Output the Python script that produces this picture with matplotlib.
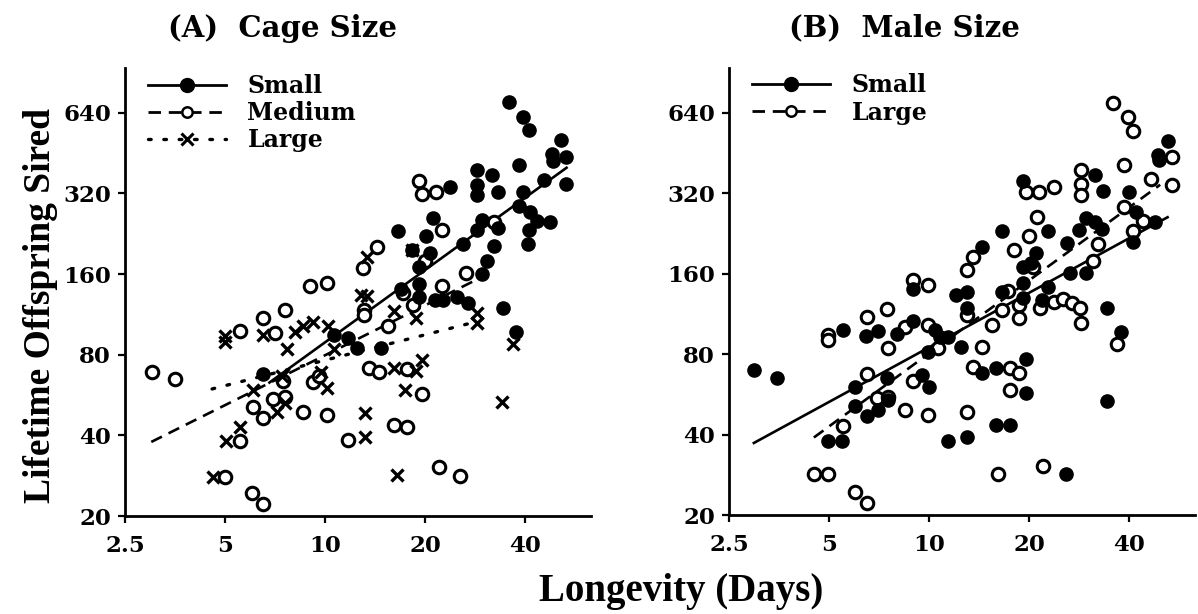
import matplotlib
matplotlib.use("Agg")
import matplotlib.pyplot as plt
from matplotlib.lines import Line2D
from matplotlib.ticker import FixedLocator, FixedFormatter, NullLocator

# ---- data: panel A, cage size ----
a_small_x = [35.6, 39.4, 41, 51.3, 48.2, 53.1, 48.5, 38.3, 28.7, 31.8,
             28.7, 23.7, 28.7, 33, 53.1, 45.6, 39.4, 38.3, 41.4, 43.5,
             47.5, 41.1, 40.6, 29.7, 28.7, 33, 32.1, 26.0, 30.7, 29.7,
             21.1, 16.6, 20.1, 18.2, 20.7, 19.1, 19.1, 19.1, 16.9, 24.9,
             26.8, 34.3, 21.4, 22.6, 37.6, 14.7, 6.5, 10.6, 11.7, 12.5]
a_small_y = [705, 615, 550, 505, 450, 438, 423, 409, 391, 375,
             344, 338, 316, 324, 347, 360, 324, 288, 273, 252,
             250, 233, 208, 255, 233, 237, 203, 208, 179, 160,
             259, 231, 222, 196, 192, 170, 147, 131, 141, 131,
             125, 120, 128, 128, 97, 85, 67.5, 95, 92, 85]

a_med_x = [3.02, 3.54, 5.55, 6.51, 7.07, 7.58, 9.0, 10.1, 13.1, 13.1,
           15.5, 7.47, 6.97, 7.58, 6.07, 6.51, 8.6, 10.15, 9.17, 9.57,
           13.5, 14.5, 16.1, 11.7, 5.55, 5.0, 6.03, 6.51, 22.5, 17.6,
           19.6, 17.6, 22.0, 25.4, 14.3, 13.0, 19.1, 19.6, 21.6, 22.4,
           26.6, 20.0, 32.1, 17.1, 18.4]
a_med_y = [69, 65, 98, 110, 96, 117, 145, 148, 117, 113,
           102, 64, 54.5, 55.7, 51, 46.6, 49, 47.8, 63.5, 66.4,
           71.6, 69, 43.9, 38.6, 38, 28, 24.3, 22.1, 144, 70.5,
           57, 43, 30.5, 28.2, 202, 168, 355, 319, 324, 233,
           162, 179, 251, 136, 123]

a_large_x = [5.0, 5.0, 6.51, 7.66, 8.12, 8.6, 9.17, 10.2, 12.8, 13.4,
             16.1, 10.6, 9.7, 10.15, 7.42, 6.07, 7.17, 7.58, 5.55, 5.04,
             4.6, 13.2, 13.2, 16.5, 18.7, 28.7, 28.7, 16.1, 18.7, 19.6,
             17.4, 34, 36.8, 13.4, 18.2]
a_large_y = [93.6, 89.5, 95, 84, 97, 102, 106, 102, 134, 132,
             116, 84, 69, 60.3, 66.4, 59, 49, 53, 43, 38,
             28, 48.6, 39.5, 28.4, 110, 114, 105, 71.6, 69.3, 76.7,
             59, 53.5, 88, 186, 196]

# fitted lines (end points)
fit_a_small_x, fit_a_small_y = [6.8, 53.2], [63, 399]
fit_a_med_x, fit_a_med_y = [3.0, 29.3], [37.8, 155]
fit_a_large_x, fit_a_large_y = [4.57, 28.3], [59.6, 106]

# ---- data: panel B, male size ----
b_small_x = [52.1, 48.8, 49.2, 19.1, 31.6, 33.4, 40, 42, 47.8, 41,
             29.7, 31.6, 33.2, 28.3, 22.7, 16.5, 14.4, 26.0, 29.7, 26.6,
             20.9, 20.3, 19.1, 19.1, 22.7, 16.6, 13.0, 21.9, 34.3, 19.1,
             12.0, 2.97, 3.49, 5.52, 6.46, 7.02, 8.0, 8.94, 8.94, 13.0,
             10.4, 10.8, 11.4, 12.5, 9.93, 15.9, 14.4, 7.47, 9.53, 10,
             5.99, 5.99, 6.51, 7.02, 7.52, 4.97, 5.46, 11.4, 13.0, 15.9,
             19.6, 19.6, 17.5, 25.7, 34.3, 37.8]
b_small_y = [503, 446, 427, 355, 375, 326, 322, 273, 250, 210,
             258, 249, 234, 233, 231, 231, 202, 208, 161, 161,
             191, 176, 170, 148, 143, 136, 136, 127, 119, 130,
             133, 69.5, 65, 98.6, 93.6, 97.8, 95, 106, 140, 119,
             98.6, 92.8, 92.8, 85, 81.5, 71, 68, 65, 66.9, 60.3,
             60.3, 51.1, 46.9, 49.6, 54, 38, 38, 38, 39, 43.5,
             76.7, 57, 43.5, 28.4, 53.6, 97]

b_large_x = [35.6, 39.7, 41.1, 53.9, 38.6, 28.7, 28.7, 28.7, 23.7, 21.4,
             19.6, 46.5, 53.6, 38.6, 43.8, 41.1, 21.1, 20, 18, 13.5,
             13.0, 32.1, 31.0, 17.2, 23.7, 25.3, 26.9, 28.5, 28.7, 20.5,
             18.6, 18.6, 21.6, 16.6, 15.5, 13.0, 4.97, 4.97, 6.51, 7.47,
             7.52, 8.48, 9.93, 10.6, 14.4, 13.5, 6.51, 8.94, 6.97, 7.52,
             8.48, 9.93, 13.0, 5.52, 4.5, 4.97, 5.99, 6.51, 16.1, 17.5,
             18.6, 17.5, 22.0, 36.8, 8.94, 9.93]
b_large_y = [698, 615, 545, 438, 409, 391, 347, 316, 338, 322,
             322, 360, 344, 285, 251, 231, 261, 222, 196, 185,
             165, 207, 179, 138, 125, 129, 124, 119, 105, 170,
             122, 109, 119, 117, 103, 112, 94.4, 90, 110, 118,
             84, 101, 103, 84, 85, 71.6, 67.5, 63.2, 55, 55.5,
             49.6, 47.4, 48.6, 43, 28.4, 28.4, 24.3, 22.1, 28.4, 71,
             68, 58.5, 30.5, 87.3, 151, 145]

fit_b_small_x, fit_b_small_y = [2.97, 52.1], [37.2, 260]
fit_b_large_x, fit_b_large_y = [4.5, 49.5], [39, 344]

x_ticks = [2.5, 5, 10, 20, 40]
x_labels = ["2.5", "5", "10", "20", "40"]
y_ticks = [20, 40, 80, 160, 320, 640]
y_labels = ["20", "40", "80", "160", "320", "640"]

BOLD = dict(family="DejaVu Serif", weight="bold")
DASH = (0, (4.5, 2.8))
DOT = (0, (0.8, 3.8))

fig = plt.figure(figsize=(11.98, 6.14), dpi=100)
ax_a = fig.add_axes([0.1043, 0.1596, 0.389, 0.7296])
ax_b = fig.add_axes([0.6085, 0.1612, 0.389, 0.728])

for ax in (ax_a, ax_b):
    ax.set_xscale("log")
    ax.set_yscale("log")
    ax.set_xlim(2.5, 63)
    ax.set_ylim(20, 940)
    ax.xaxis.set_major_locator(FixedLocator(x_ticks))
    ax.xaxis.set_major_formatter(FixedFormatter(x_labels))
    ax.yaxis.set_major_locator(FixedLocator(y_ticks))
    ax.yaxis.set_major_formatter(FixedFormatter(y_labels))
    ax.xaxis.set_minor_locator(NullLocator())
    ax.yaxis.set_minor_locator(NullLocator())
    for s in ("top", "right"):
        ax.spines[s].set_visible(False)
    for s in ("left", "bottom"):
        ax.spines[s].set_linewidth(2.0)
    ax.tick_params(axis="both", direction="out", length=5, width=1.6)
    ax.tick_params(axis="x", pad=9)
    ax.tick_params(axis="y", pad=5)
    for lab in ax.get_xticklabels() + ax.get_yticklabels():
        lab.set_fontfamily("DejaVu Serif")
        lab.set_fontweight("bold")
        lab.set_fontsize(16.5)

filled = dict(ls="none", marker="o", ms=9.5, mfc="black", mec="black", mew=1)
hollow = dict(ls="none", marker="o", ms=9, mfc="white", mec="black", mew=2.2)
cross = dict(ls="none", marker="x", ms=9, mec="black", mew=2.4)

# --- panel A ---
ax_a.plot(fit_a_small_x, fit_a_small_y, color="black", lw=1.9, ls="-")
ax_a.plot(fit_a_med_x, fit_a_med_y, color="black", lw=1.9, ls=DASH)
ax_a.plot(fit_a_large_x, fit_a_large_y, color="black", lw=2.4, ls=DOT,
          dash_capstyle="round")
ax_a.plot(a_med_x, a_med_y, **hollow)
ax_a.plot(a_large_x, a_large_y, **cross)
ax_a.plot(a_small_x, a_small_y, **filled)

h_small = Line2D([], [], color="black", lw=2.0, marker="o", ms=10, mfc="black")
h_med = Line2D([], [], color="black", lw=2.0, ls=DASH, marker="o", ms=7.5,
               mfc="white", mew=1.8)
h_large = Line2D([], [], color="black", lw=2.4, ls=DOT, marker="x", ms=8,
                 mew=2.2, dash_capstyle="round")
ax_a.legend([h_small, h_med, h_large], ["Small", "Medium", "Large"],
            loc="upper left", bbox_to_anchor=(0.05, 0.987), frameon=False,
            prop=dict(family="DejaVu Serif", weight="bold", size=17),
            handlelength=3.3, handletextpad=0.9, labelspacing=0.14,
            borderpad=0, borderaxespad=0)

# --- panel B ---
ax_b.plot(fit_b_small_x, fit_b_small_y, color="black", lw=1.9, ls="-")
ax_b.plot(fit_b_large_x, fit_b_large_y, color="black", lw=1.9, ls=DASH)
ax_b.plot(b_large_x, b_large_y, **hollow)
ax_b.plot(b_small_x, b_small_y, **filled)

h_large_b = Line2D([], [], color="black", lw=2.0, ls=DASH, marker="o", ms=7.5,
                   mfc="white", mew=1.8)
ax_b.legend([h_small, h_large_b], ["Small", "Large"],
            loc="upper left", bbox_to_anchor=(0.05, 0.988), frameon=False,
            prop=dict(family="DejaVu Serif", weight="bold", size=17),
            handlelength=3.3, handletextpad=0.9, labelspacing=0.14,
            borderpad=0, borderaxespad=0)

fig.text(0.236, 0.954, "(A)  Cage Size", ha="center", va="center", size=21, **BOLD)
fig.text(0.755, 0.954, "(B)  Male Size", ha="center", va="center", size=21, **BOLD)
fig.text(0.569, 0.036, "Longevity (Days)", ha="center", va="center",
         family="Liberation Serif", weight="bold", size=28)
fig.text(0.034, 0.502, "Lifetime Offspring Sired", ha="center", va="center",
         rotation=90, family="Liberation Serif", weight="bold", size=27)

fig.savefig("out.png", dpi=100, facecolor="white")
